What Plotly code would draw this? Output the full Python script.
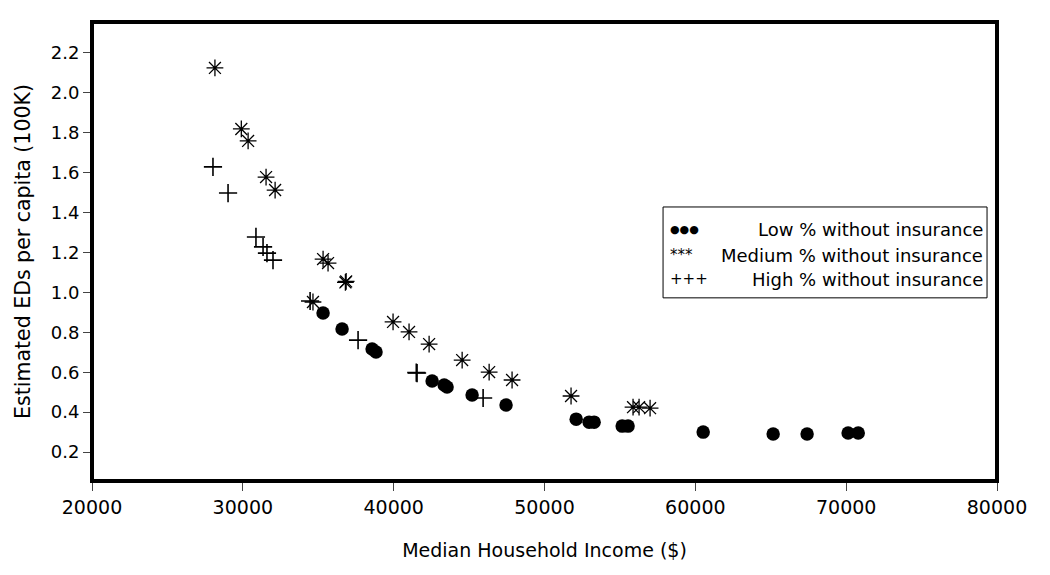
import plotly.graph_objects as go

# Low % without insurance
low_x = [35320, 36580, 38570, 38830, 42550, 43350, 43540, 45200, 47450, 52100,
         52960, 53290, 55150, 55540, 60520, 65160, 67410, 70130, 70800]
low_y = [0.897, 0.817, 0.716, 0.701, 0.556, 0.536, 0.526, 0.486, 0.436, 0.365,
         0.350, 0.350, 0.330, 0.330, 0.300, 0.290, 0.290, 0.295, 0.295]

# Medium % without insurance
med_x = [28150, 29900, 30350, 31540, 32140, 34650, 35320, 35650, 36800, 36850,
         39960, 41020, 42350, 44540, 46330, 47850, 51760, 55870, 56270, 57000]
med_y = [2.125, 1.819, 1.759, 1.578, 1.513, 0.952, 1.167, 1.147, 1.050, 1.055,
         0.852, 0.802, 0.741, 0.661, 0.601, 0.561, 0.481, 0.425, 0.425, 0.420]

# High % without insurance
high_x = [28020, 29020, 30870, 31340, 31600, 32000, 34460, 37640, 41500, 41550, 45930]
high_y = [1.629, 1.498, 1.278, 1.228, 1.197, 1.162, 0.957, 0.761, 0.598, 0.596, 0.471]

series_names = ["Low % without insurance", "Medium % without insurance", "High % without insurance"]
legend_symbols = ["●●●", "***", "+++"]

x_ticks = [20000, 30000, 40000, 50000, 60000, 70000, 80000]
y_ticks = [0.2, 0.4, 0.6, 0.8, 1.0, 1.2, 1.4, 1.6, 1.8, 2.0, 2.2]

FONT = "DejaVu Sans"

fig = go.Figure()
fig.add_trace(go.Scatter(x=low_x, y=low_y, mode="markers", name=series_names[0],
                         marker=dict(symbol="circle", size=13.5, color="black"),
                         showlegend=False))
fig.add_trace(go.Scatter(x=med_x, y=med_y, mode="markers", name=series_names[1],
                         marker=dict(symbol="asterisk-open", size=14, color="black",
                                     line=dict(color="black", width=1.3)),
                         showlegend=False))
fig.add_trace(go.Scatter(x=high_x, y=high_y, mode="markers", name=series_names[2],
                         marker=dict(symbol="cross-thin-open", size=13, color="black",
                                     line=dict(color="black", width=1.6)),
                         showlegend=False))

# plot frame
fig.add_shape(type="rect", xref="paper", yref="paper", x0=0, x1=1, y0=0, y1=1,
              line=dict(color="black", width=4), layer="above")

# custom legend box
fig.add_shape(type="rect", xref="paper", yref="paper", x0=0.631, x1=0.989, y0=0.399, y1=0.597,
              line=dict(color="black", width=1), fillcolor="white", layer="above")
row_y = [0.549, 0.492, 0.440]
sym_sizes = [11, 15, 15]
for name, sym, yy, ss in zip(series_names, legend_symbols, row_y, sym_sizes):
    fig.add_annotation(xref="paper", yref="paper", x=0.636, y=yy, text=sym,
                       showarrow=False, xanchor="left", yanchor="middle",
                       font=dict(family=FONT, size=ss, color="black"))
    fig.add_annotation(xref="paper", yref="paper", x=0.987, y=yy, text=name,
                       showarrow=False, xanchor="right", yanchor="middle",
                       font=dict(family=FONT, size=18, color="black"))

fig.update_layout(
    width=1042, height=567,
    margin=dict(l=84, r=53, t=14, b=94),
    paper_bgcolor="white", plot_bgcolor="white",
    font=dict(family=FONT, size=18, color="black"),
    xaxis=dict(range=[20000, 80000], tickvals=x_ticks, tickformat="d",
               showgrid=False, zeroline=False, showline=False,
               ticks="outside", ticklen=9, tickwidth=1, tickcolor="#444",
               tickfont=dict(family=FONT, size=19, color="black"),
               title=dict(text="Median Household Income ($)", standoff=26,
                          font=dict(family=FONT, size=19, color="black"))),
    yaxis=dict(range=[0.055, 2.355], tickvals=y_ticks, tickformat=".1f",
               showgrid=False, zeroline=False, showline=False,
               ticks="outside", ticklen=8, tickwidth=1, tickcolor="#444",
               tickfont=dict(family=FONT, size=18, color="black"),
               title=dict(text="Estimated EDs per capita (100K)", standoff=14,
                          font=dict(family=FONT, size=20.5, color="black"))),
)

fig.write_html("out.html")
